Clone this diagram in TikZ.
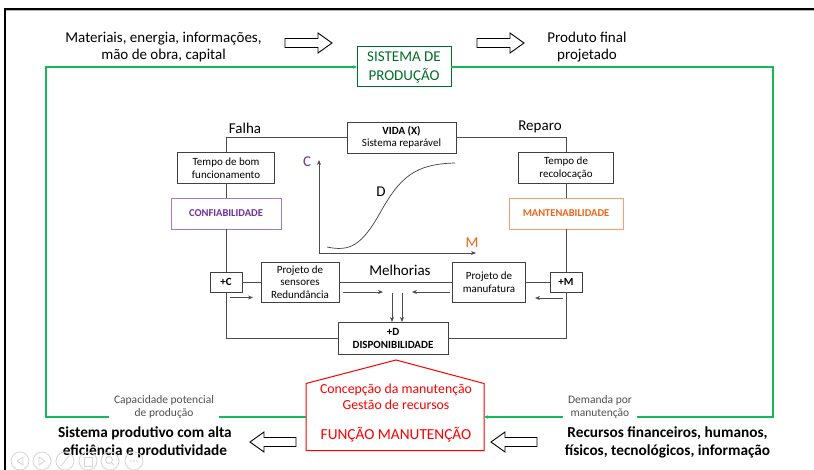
\documentclass[tikz,border=0pt]{standalone}
\usepackage{fontspec}
\setmainfont{Carlito}
\usetikzlibrary{arrows.meta}

\definecolor{gdark}{RGB}{0,110,40}
\definecolor{gline}{RGB}{20,185,90}
\definecolor{purp}{RGB}{112,48,160}
\definecolor{purpl}{RGB}{165,120,205}
\definecolor{orng}{RGB}{240,100,25}
\definecolor{orngl}{RGB}{245,160,110}
\definecolor{redf}{RGB}{250,0,0}
\definecolor{txtgray}{RGB}{80,80,80}

\begin{document}
\begin{tikzpicture}[x=1pt,y=-1pt,
  every node/.style={inner sep=0pt, outer sep=0pt},
  bx/.style={draw=black!75, line width=0.8pt, fill=white, align=center,
             font=\fontsize{11}{12.5}\selectfont},
  ln/.style={draw=black!70, line width=0.8pt},
  tip/.style={-{Stealth[length=5pt,width=4pt]}},
  gpath/.style={draw=gline, line width=1.1pt},
  gtip/.style={-{Stealth[length=4pt,width=3.5pt]}},
  big/.style={align=center, font=\fontsize{15}{17.5}\selectfont},
  bigb/.style={align=center, font=\fontsize{15.3}{18}\selectfont\bfseries},
  small/.style={align=center, text=txtgray, font=\fontsize{11.5}{13.5}\selectfont,
                fill=white, inner xsep=5pt, inner ysep=3pt},
  blk/.style={draw=black, line width=0.9pt, fill=white, line join=miter},
  pics/barR/.style={code={\draw[blk] (0,-4.5) -- (33,-4.5) -- (33,-10) -- (47,0)
                          -- (33,10) -- (33,4.5) -- (0,4.5) -- cycle;}},
  pics/barL/.style={code={\draw[blk] (0,-4.5) -- (-32,-4.5) -- (-32,-10) -- (-46,0)
                          -- (-32,10) -- (-32,4.5) -- (0,4.5) -- cycle;}},
  navbtn/.style={draw=black!16, line width=0.8pt}
]
\useasboundingbox (0,0) rectangle (814,470);
\fill[white] (0,0) rectangle (814,470);

% window frame
\draw[black!30, line width=1pt] (6,10.5) -- (814,10.5);
\draw[black, line width=2pt, line cap=rect] (5,470) -- (5,9) -- (814,9);

% ---- production system (top) ----
\node[big] (inp) at (163.5,47) {Materiais, energia, informações,\\mão de obra, capital};
\pic at (285,43) {barR};
\node[draw=gdark, line width=1pt, fill=white, minimum width=94, minimum height=40,
      align=center, text=gdark, font=\fontsize{15}{19}\selectfont] (sis) at (404,67)
      {SISTEMA DE\\PRODUÇÃO};
\pic at (477,43) {barR};
\node[big] (out) at (587,47) {Produto final\\projetado};

% ---- maintenance function (bottom) ----
\node[minimum width=178, minimum height=67] (fm) at (395,417) {};
\draw[draw=redf, line width=1pt, fill=white, line join=miter]
  (fm.south west) -- (fm.north west) -- (396,360) -- (fm.north east)
  -- (fm.south east) -- cycle;
\node[text=redf, align=center, font=\fontsize{13.8}{16}\selectfont] (conc) at (396,397)
  {Concepção da manutenção\\Gestão de recursos};
\node[text=redf, font=\fontsize{15.3}{18}\selectfont] (fmt) at (396,435) {FUNÇÃO MANUTENÇÃO};

% green feedback loop
\coordinate (gTL) at (46,67);
\coordinate (gTR) at (773,67);
\coordinate (gBL) at (46,417);
\coordinate (gBR) at (773,417);
\draw[gpath,gtip] (fm.west) -- (gBL) -- (gTL) -- (sis.west);
\draw[gpath,gtip] (sis.east) -- (gTR) -- (gBR) -- (fm.east);
\node[small] (cap) at (164,407) {Capacidade potencial\\de produção};
\node[small] (dem) at (600,407) {Demanda por\\manutenção};

\node[bigb] (res) at (145,442) {Sistema produtivo com alta\\eficiência e produtividade};
\pic at (296,442) {barL};
\pic at (537,442) {barL};
\node[bigb] (rec) at (667.5,442) {Recursos financeiros, humanos,\\físicos, tecnológicos, informação};

% ---- life cycle of the repairable system ----
\node[bx, minimum width=109, minimum height=31] (vida) at (401.5,137.5)
  {\textbf{VIDA (X)}\\Sistema reparável};
\node[big] (falha) at (245,128) {Falha};
\node[big] (reparo) at (540,127) {Reparo};

\node[bx, minimum width=97, minimum height=31] (tbf) at (226,168)
  {Tempo de bom\\funcionamento};
\node[bx, draw=purpl, text=purp, minimum width=110, minimum height=31,
      font=\fontsize{10.5}{13}\selectfont\bfseries] (conf) at (226,213.5) {CONFIABILIDADE};
\node[bx, minimum width=32, minimum height=20, font=\fontsize{11}{13}\selectfont\bfseries]
  (pc) at (226,282) {+C};

\node[bx, minimum width=95, minimum height=31] (tr) at (566,168)
  {Tempo de\\recolocação};
\node[bx, draw=orngl, text=orng, minimum width=114, minimum height=31,
      font=\fontsize{10.5}{13}\selectfont\bfseries] (mant) at (566,213.5) {MANTENABILIDADE};
\node[bx, minimum width=32, minimum height=20, font=\fontsize{11}{13}\selectfont\bfseries]
  (pm) at (566,282) {+M};

\node[bx, minimum width=78, minimum height=40] (sens) at (300,282)
  {Projeto de\\sensores\\Redundância};
\node[bx, minimum width=73, minimum height=40] (manu) at (489,282)
  {Projeto de\\manufatura};
\node[big] (melh) at (400,270) {Melhorias};

\node[bx, minimum width=110, minimum height=32, font=\fontsize{11}{13}\selectfont\bfseries]
  (disp) at (393,338) {+D\\DISPONIBILIDADE};

\draw[ln] (vida.west) -| (tbf.north);
\draw[ln] (tbf.south) -- (conf.north);
\draw[ln] (conf.south) -- (pc.north);
\draw[ln] (pc.south) |- (disp.west);
\draw[ln] (vida.east) -| (tr.north);
\draw[ln] (tr.south) -- (mant.north);
\draw[ln] (mant.south) -- (pm.north);
\draw[ln] (pm.south) |- (disp.east);
\draw[ln] (pc.east) -- (sens.west);
\draw[ln] (sens.east) -- (manu.west);
\draw[ln] (manu.east) -- (pm.west);

% improvement flows
\coordinate (c1) at (230,297.5);
\coordinate (c2) at (253,297.5);
\coordinate (c3) at (343,292);
\coordinate (c4) at (383,292);
\coordinate (c5) at (450,292);
\coordinate (c6) at (412,292);
\coordinate (c7) at (563,298);
\coordinate (c8) at (535,298);
\coordinate (d1) at (392,293);
\coordinate (d2) at (402,293);
\draw[ln,tip] (c1) -- (c2);
\draw[ln,tip] (c3) -- (c4);
\draw[ln,tip] (c5) -- (c6);
\draw[ln,tip] (c7) -- (c8);
\draw[ln,tip] (d1) -- (d1 |- disp.north);
\draw[ln,tip] (d2) -- (d2 |- disp.north);

% availability curve
\coordinate (o) at (319,253);
\coordinate (yt) at (319,160);
\coordinate (xt) at (476,253);
\draw[ln,tip] (o) -- (yt);
\draw[ln,tip] (o) -- (xt);
\draw[black!75, line width=0.7pt] (327,247) .. controls (350,252) and (362,245) .. (380,213)
  .. controls (400,177) and (415,164) .. (455,163);
\node[text=purp, font=\fontsize{15}{17}\selectfont] (lc) at (307,162) {C};
\node[text=orng, font=\fontsize{15}{17}\selectfont] (lm) at (472,243) {M};
\node[font=\fontsize{15}{17}\selectfont] (ld) at (381,192) {D};

% slide-show buttons
\foreach \bx/\nm in {20/n1,42/n2,65/n3,88/n4,110/n5,134/n6}
  \draw[navbtn] (\bx,461) circle (9);
\draw[navbtn, line join=round] (23,457) -- (17,461) -- (23,465) -- cycle;
\draw[navbtn, line join=round] (39,457) -- (45,461) -- (39,465) -- cycle;
\draw[navbtn] (61,466) -- (69,456);
\draw[navbtn] (84,457) rectangle (92,466);
\draw[navbtn] (109,460) circle (3.5) (111.5,462.5) -- (114,465.5);
\foreach \dx in {-3,0,3} \fill[black!16] (134+\dx,461) circle (0.9);
\end{tikzpicture}
\end{document}
